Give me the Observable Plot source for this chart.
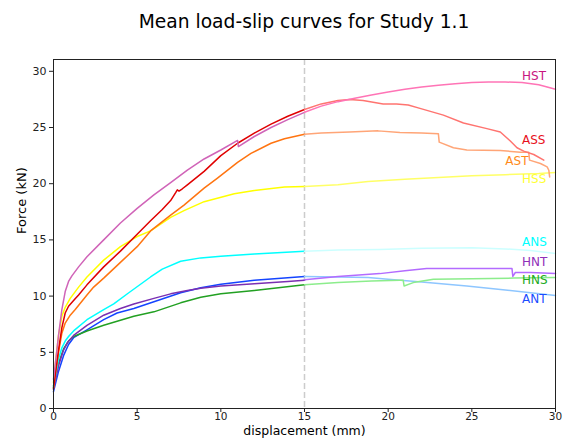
<!DOCTYPE html>
<html>
<head>
<meta charset="utf-8">
<script src="https://cdn.jsdelivr.net/npm/d3@7"></script>
<script src="https://cdn.jsdelivr.net/npm/@observablehq/plot@0.6"></script>
<style>
  html, body { margin: 0; padding: 0; background: #fff; }
  #wrap { position: relative; width: 565px; height: 441px; }
  #title { position: absolute; left: 53px; width: 502px; top: 10px; line-height: 24px; text-align: center;
           font-family: "DejaVu Sans", sans-serif; font-size: 18.7px; color: #000; }
</style>
</head>
<body>
<div id="wrap"><div id="title">Mean load-slip curves for Study 1.1</div></div>
<script>
// ---- Data ----
const xTicks = [0, 5, 10, 15, 20, 25, 30];
const yTicks = [0, 5, 10, 15, 20, 25, 30];
const seriesNames = ["ANT", "HNS", "HNT", "ANS", "HSS", "AST", "ASS", "HST"];
const darkColors  = ["#1444ff", "#22a022", "#7a2fb2", "#00ffff", "#ffff00", "#ff7410", "#e00000", "#d064b8"];
const lightColors = ["#8ec6ff", "#8ced8c", "#b36bff", "#ccffff", "#ffff66", "#ffa577", "#ff7470", "#ff74b6"];

// first half (0–15 mm)
const ANT_x1 = [0, 0.3, 0.6, 0.9, 1.2, 2, 3, 3.8, 4.8, 6, 7.6, 8.8, 10, 12, 15];
const ANT_y1 = [1.5, 3.3, 4.7, 5.7, 6.3, 7.0, 7.9, 8.5, 8.9, 9.5, 10.3, 10.75, 11.05, 11.4, 11.75];
const HNS_x1 = [0, 0.3, 0.6, 0.9, 1.2, 2, 3, 4.8, 6, 7.6, 8.8, 10, 12, 15];
const HNS_y1 = [2.0, 4.0, 5.3, 6.0, 6.4, 6.9, 7.4, 8.2, 8.6, 9.4, 9.9, 10.2, 10.5, 11.0];
const HNT_x1 = [0, 0.3, 0.6, 0.85, 1.2, 2, 3, 4, 4.8, 6, 7, 8, 8.8, 10, 12, 14, 15];
const HNT_y1 = [1.7, 3.8, 5.2, 5.9, 6.5, 7.4, 8.3, 8.9, 9.3, 9.8, 10.2, 10.5, 10.7, 10.9, 11.1, 11.3, 11.4];
const ANS_x1 = [0, 0.15, 0.3, 0.5, 0.7, 0.9, 1.2, 2, 3, 3.6, 4.5, 5.8, 6.5, 7.6, 8.8, 10, 12, 15];
const ANS_y1 = [1.9, 3.2, 4.4, 5.4, 6.0, 6.4, 6.9, 7.9, 8.8, 9.3, 10.3, 11.7, 12.4, 13.1, 13.4, 13.55, 13.75, 14.0];
const HSS_x1 = [0, 0.15, 0.3, 0.5, 0.7, 1, 1.5, 2, 3, 4, 5, 5.8, 7, 7.8, 9, 10.8, 12, 13.8, 15];
const HSS_y1 = [2.3, 4.5, 6.5, 8.2, 9.0, 9.8, 10.8, 11.7, 13.2, 14.4, 15.3, 15.8, 17.0, 17.6, 18.4, 19.1, 19.4, 19.7, 19.75];
const AST_x1 = [0, 0.15, 0.3, 0.5, 0.7, 1, 1.3, 2, 2.4, 3, 4, 5, 5.8, 7, 7.8, 9, 9.8, 11, 11.8, 13, 13.8, 15];
const AST_y1 = [1.8, 3.5, 5.0, 6.7, 7.6, 8.3, 8.8, 10.1, 10.8, 11.6, 13.0, 14.4, 15.8, 17.2, 18.1, 19.6, 20.5, 21.9, 22.7, 23.6, 24.0, 24.4];
const ASS_x1 = [0, 0.15, 0.3, 0.5, 0.7, 0.9, 1.2, 1.5, 2, 3, 4, 5, 5.8, 6.5, 7, 7.3, 7.4, 7.5, 7.7, 8, 9, 10, 11, 12, 13, 14, 15];
const ASS_y1 = [1.8, 3.5, 5.2, 7.2, 8.5, 9.1, 9.6, 10.1, 11.0, 12.6, 14.0, 15.5, 16.7, 17.7, 18.5, 19.2, 19.45, 19.35, 19.55, 19.9, 21.1, 22.5, 23.6, 24.5, 25.3, 26.0, 26.6];
const HST_x1 = [0, 0.15, 0.3, 0.5, 0.7, 0.9, 1.1, 1.5, 2, 3, 4, 5, 6, 7, 8, 9, 10, 11, 11.05, 12, 13, 14, 15];
const HST_y1 = [2.6, 4.5, 6.5, 8.8, 10.4, 11.3, 11.8, 12.6, 13.5, 15.0, 16.5, 17.8, 19.0, 20.1, 21.2, 22.2, 23.0, 23.85, 23.3, 24.2, 25.0, 25.7, 26.35];

// second half (15–30 mm)
const ANT_x2 = [15, 17, 18.8, 20, 22, 24.7, 27, 30];
const ANT_y2 = [11.75, 11.7, 11.65, 11.5, 11.25, 10.9, 10.55, 10.05];
const HNS_x2 = [15, 17, 19, 20.7, 20.9, 20.95, 21.5, 22.7, 25, 27.5, 30];
const HNS_y2 = [11.0, 11.2, 11.35, 11.4, 11.4, 10.9, 11.2, 11.5, 11.55, 11.6, 11.65];
const HNT_x2 = [15, 17, 19.5, 21, 22.3, 25, 27.4, 27.45, 27.6, 28.5, 30];
const HNT_y2 = [11.45, 11.75, 12.0, 12.25, 12.45, 12.45, 12.45, 11.75, 12.1, 12.1, 12.0];
const ANS_x2 = [15, 17, 19.5, 22, 25, 27, 28.5, 30];
const ANS_y2 = [14.0, 14.1, 14.15, 14.25, 14.3, 14.2, 14.05, 13.8];
const HSS_x2 = [15, 17, 18.8, 21, 23, 25, 27, 29, 30];
const HSS_y2 = [19.75, 19.9, 20.2, 20.4, 20.55, 20.7, 20.8, 20.9, 21.0];
const AST_x2 = [15, 16, 17.7, 19.4, 20.7, 22, 23.0, 23.05, 23.9, 24.7, 26.7, 27.9, 28.4, 28.45, 29.1, 29.5, 29.6, 29.65];
const AST_y2 = [24.4, 24.5, 24.6, 24.7, 24.55, 24.5, 24.45, 23.7, 23.2, 23.0, 22.95, 22.8, 22.8, 22.1, 21.8, 21.5, 21.2, 20.6];
const ASS_x2 = [15, 16, 17, 17.7, 18.5, 19.7, 20.5, 21.2, 21.9, 23.3, 24.5, 25.9, 26.7, 27.3, 27.7, 28.1, 28.7, 29.3];
const ASS_y2 = [26.6, 27.1, 27.4, 27.5, 27.4, 27.1, 27.1, 27.0, 26.7, 26.1, 25.4, 24.9, 24.6, 23.8, 23.2, 22.9, 22.6, 22.1];
const HST_x2 = [15, 16, 17, 18, 19, 20, 21, 22, 23, 24, 25, 26, 27, 28, 29, 29.5, 30];
const HST_y2 = [26.35, 26.9, 27.3, 27.6, 27.9, 28.15, 28.4, 28.6, 28.75, 28.9, 29.0, 29.05, 29.05, 29.0, 28.8, 28.6, 28.4];

// end labels
const labelNames  = ["HST", "ASS", "AST", "HSS", "ANS", "HNT", "HNS", "ANT"];
const labelX      = [28, 28, 27, 28, 28, 28, 28, 28];
const labelY      = [29.6, 23.85, 22.05, 20.4, 14.8, 13.0, 11.4, 9.7];
const labelColors = ["#c8157f", "#e8101c", "#ff8a1a", "#ffff33", "#00ffff", "#8f2fb8", "#22aa22", "#1a4dff"];

// ---- Build table ----
const firstX  = {ANT: ANT_x1, HNS: HNS_x1, HNT: HNT_x1, ANS: ANS_x1, HSS: HSS_x1, AST: AST_x1, ASS: ASS_x1, HST: HST_x1};
const firstY  = {ANT: ANT_y1, HNS: HNS_y1, HNT: HNT_y1, ANS: ANS_y1, HSS: HSS_y1, AST: AST_y1, ASS: ASS_y1, HST: HST_y1};
const secondX = {ANT: ANT_x2, HNS: HNS_x2, HNT: HNT_x2, ANS: ANS_x2, HSS: HSS_x2, AST: AST_x2, ASS: ASS_x2, HST: HST_x2};
const secondY = {ANT: ANT_y2, HNS: HNS_y2, HNT: HNT_y2, ANS: ANS_y2, HSS: HSS_y2, AST: AST_y2, ASS: ASS_y2, HST: HST_y2};

const rows = [];
seriesNames.forEach((s, k) => {
  firstX[s].forEach((x, i) => rows.push({key: s + "-a", x, y: firstY[s][i], color: darkColors[k]}));
});
seriesNames.forEach((s, k) => {
  secondX[s].forEach((x, i) => rows.push({key: s + "-b", x, y: secondY[s][i], color: lightColors[k]}));
});
const labels = labelNames.map((n, i) => ({n, x: labelX[i], y: labelY[i], c: labelColors[i]}));

const chart = Plot.plot({
  width: 565,
  height: 441,
  marginTop: 59,
  marginBottom: 33,
  marginLeft: 53,
  marginRight: 10,
  x: {domain: [0, 30]},
  y: {domain: [0, 31.05]},
  color: {type: "identity"},
  style: {fontFamily: "'DejaVu Sans', sans-serif", fontSize: "11px", color: "#222", background: "transparent", overflow: "visible"},
  marks: [
    Plot.ruleX([15], {stroke: "#cccccc", strokeWidth: 1.5, strokeDasharray: "6,3"}),
    Plot.line(rows, {x: "x", y: "y", z: "key", stroke: "color", strokeWidth: 1.5}),
    Plot.text(labels, {x: "x", y: "y", text: "n", fill: "c", textAnchor: "start", fontSize: 12}),
    Plot.frame({stroke: "#222"}),
    Plot.axisX({ticks: xTicks, tickSize: 4, tickPadding: 0, fontSize: 10.5, label: null, tickFormat: d => String(d)}),
    Plot.axisY({ticks: yTicks, tickSize: 4, tickPadding: 3, label: null, tickFormat: d => String(d)}),
    Plot.text(["displacement (mm)"], {frameAnchor: "bottom", dy: 26.5, fontSize: 12.5, fill: "#000"}),
    Plot.text(["Force (kN)"], {frameAnchor: "left", dx: -32, rotate: -90, fontSize: 13, fill: "#000"})
  ]
});
chart.style.position = "absolute";
chart.style.left = "0px";
chart.style.top = "0px";
document.getElementById("wrap").appendChild(chart);
</script>
</body>
</html>
